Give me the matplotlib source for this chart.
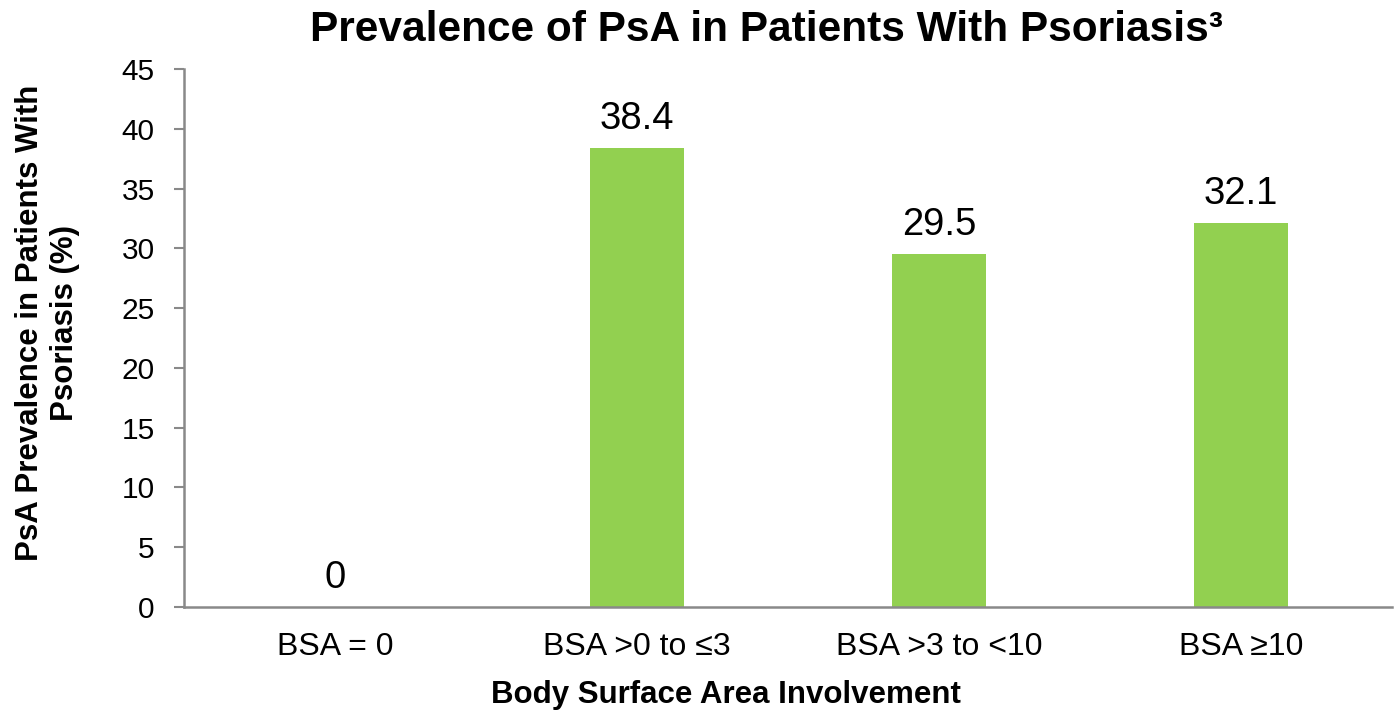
import matplotlib
matplotlib.use('Agg')
import matplotlib.pyplot as plt
import numpy as np

plt.rcParams['font.family'] = ['Liberation Sans', 'DejaVu Sans']

categories = ['BSA = 0', 'BSA >0 to \u22643', 'BSA >3 to <10', 'BSA \u226510']
prevalence = [0, 38.4, 29.5, 32.1]
value_labels = ['0', '38.4', '29.5', '32.1']
yticks = [0, 5, 10, 15, 20, 25, 30, 35, 40, 45]

fig = plt.figure(figsize=(13.99, 7.14), dpi=100)
ax = fig.add_axes([0.1315, 0.150, 0.8635, 0.753])

x = np.arange(len(categories))
bars = ax.bar(x, prevalence, width=0.31, color='#92D050')

for xi, v, lab in zip(x, prevalence, value_labels):
    ax.annotate(lab, (xi, v), xytext=(0, 8), textcoords='offset points',
                ha='center', va='bottom', fontsize=27.5)

ax.set_xlim(-0.5, 3.5)
ax.set_ylim(0, 45)
ax.set_yticks(yticks)
ax.set_xticks(x)
ax.set_xticklabels(categories, fontsize=23)
ax.tick_params(axis='y', labelsize=21.5, length=7, width=1.5, color='#898989', pad=14)
ax.tick_params(axis='x', length=0, pad=18)

for s in ['top', 'right']:
    ax.spines[s].set_visible(False)
for s in ['left', 'bottom']:
    ax.spines[s].set_color('#898989')
    ax.spines[s].set_linewidth(1.8)

fig.text(0.5475, 0.958, 'Prevalence of PsA in Patients With Psoriasis\u00b3',
         ha='center', va='center', fontsize=30.5, fontweight='bold')
fig.text(0.519, 0.027, 'Body Surface Area Involvement',
         ha='center', va='center', fontsize=22.5, fontweight='bold')
fig.text(0.034, 0.548, 'PsA Prevalence in Patients With\nPsoriasis (%)',
         ha='center', va='center', rotation=90, fontsize=22.5, fontweight='bold',
         linespacing=1.2)

fig.savefig('out.png', dpi=100)
